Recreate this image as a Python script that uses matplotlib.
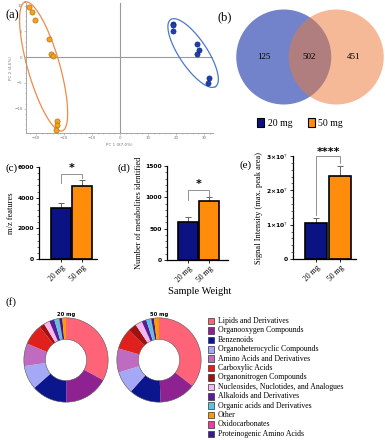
import numpy as np
import matplotlib
matplotlib.use('Agg')
import matplotlib.pyplot as plt
from matplotlib.patches import Circle, Patch, Rectangle
from matplotlib.ticker import AutoMinorLocator

plt.rcParams['font.family'] = ['Liberation Serif', 'DejaVu Serif']
plt.rcParams['mathtext.fontset'] = 'dejavuserif'

# ---------------- data ----------------
# (a) PCA scores
pc1_20mg = [18.9, 18.9, 18.9, 27.5, 28.2, 27.5, 31.8, 31.4]
pc2_20mg = [6.5, 6.2, 5.0, 2.5, 1.3, 0.7, -4.0, -5.0]
pc1_50mg = [-32.5, -31.4, -30.4, -25.4, -24.7, -24.0, -22.5, -22.5, -22.8]
pc2_50mg = [9.8, 8.8, 7.3, 3.5, 0.6, 0.2, -12.3, -13.1, -14.2]

# (b) venn counts
only_20mg = 125
shared = 502
only_50mg = 451

# (c)-(e) bars
groups = ['20 mg', '50 mg']
mz_mean = [3340, 4770]
mz_err = [280, 390]
metab_mean = [612, 947]
metab_err = [80, 54]
signal_mean = [1.06e7, 2.43e7]
signal_err = [0.12e7, 0.29e7]

# (f) donut composition (%), legend order
classes = ['Lipids and Derivatives', 'Organooxygen Compounds', 'Benzenoids',
           'Organoheterocyclic Compounds', 'Amino Acids and Derivatives',
           'Carboxylic Acids', 'Organonitrogen Compounds',
           'Nucleosides, Nuclotides, and Analogues', 'Alkaloids and Derivatives',
           'Organic acids and Derivatives', 'Other', 'Oxidocarbonates',
           'Proteinogenic Amino Acids']
class_colors = ['#ff6378', '#8e2290', '#0b158c', '#a4a8f5', '#bf6cc0',
                '#e0201c', '#a01212', '#f7b8ef', '#5a1d9a', '#5ac4dc',
                '#ff9a00', '#f03ca0', '#3c1a8a']
pct_20mg = [33.0, 17.0, 13.7, 9.2, 8.7, 8.0, 2.0, 2.2, 2.0, 1.7, 1.4, 0.2, 1.2]
pct_50mg = [35.5, 13.9, 12.2, 8.6, 9.2, 8.0, 3.3, 2.6, 1.8, 1.7, 1.9, 0.2, 1.1]
wedge_order = [0, 1, 2, 3, 4, 5, 6, 7, 8, 9, 11, 12, 10]

blue = '#0b1282'
orange = '#ff8c0a'

W, H = 385, 440
fig = plt.figure(figsize=(W/100, H/100), dpi=100)

def px_axes(l, t, r, b):
    return fig.add_axes([l/W, 1-b/H, (r-l)/W, (b-t)/H])

# ---------------- (a) PCA ----------------
ax = px_axes(26, 3, 213, 133)
ax.axvline(0, color='#9a9a9a', lw=0.8, zorder=0)
ax.axhline(0, color='#9a9a9a', lw=0.8, zorder=0)
ax.scatter(pc1_50mg, pc2_50mg, s=14, c='#f5a21b', edgecolors='#a86400', linewidths=0.4, zorder=3)
ax.scatter(pc1_20mg, pc2_20mg, s=14, c='#1f3fae', edgecolors='#0a1f70', linewidths=0.4, zorder=3)

t = np.linspace(0, 2*np.pi, 300)
# hotelling-style ellipses (centre, two conjugate half-axes in data units)
ell = [((-27.3, -1.8), (-6.6, 12.5), (5.5, 0.85), '#f08a4b'),
       ((26.1, 0.8), (8.0, -6.5), (4.15, 1.48), '#4a78d0')]
for c, u, v, col in ell:
    ex = c[0] + u[0]*np.cos(t) + v[0]*np.sin(t)
    ey = c[1] + u[1]*np.cos(t) + v[1]*np.sin(t)
    ax.plot(ex, ey, color=col, lw=0.9, clip_on=False)

ax.set_xlim(-33.6, 33.2)
ax.set_ylim(-14.7, 10.5)
ax.set_xticks([-30, -20, -10, 0, 10, 20, 30])
ax.set_yticks([-10, -5, 0, 5, 10])
ax.xaxis.set_minor_locator(AutoMinorLocator(5))
ax.yaxis.set_minor_locator(AutoMinorLocator(5))
for s in ['top', 'right']:
    ax.spines[s].set_visible(False)
for s in ['left', 'bottom']:
    ax.spines[s].set_color('#9a9a9a')
    ax.spines[s].set_linewidth(0.6)
ax.tick_params(which='both', colors='#9a9a9a', labelsize=2.8, width=0.4, pad=1)
ax.tick_params(which='major', length=1.5)
ax.tick_params(which='minor', length=0.8)
for lab in ax.get_xticklabels() + ax.get_yticklabels():
    lab.set_family('DejaVu Sans')
    lab.set_color('#777777')
ax.set_xlabel('PC 1 (87.0%)', fontsize=3, family='DejaVu Sans', color='#777777', labelpad=1.5)
ax.set_ylabel('PC 2 (4.6%)', fontsize=3, family='DejaVu Sans', color='#777777', labelpad=1)
fig.text(5/W, 1-15/H, '(a)', fontsize=9, va='center')

# ---------------- (b) Venn ----------------
axv = px_axes(228, 5, 385, 110)
axv.set_xlim(228, 385)
axv.set_ylim(110, 5)
axv.set_aspect('equal')
axv.axis('off')
r_venn = 47.5
sep = 52.5
cx, cy = 310, 57
axv.add_patch(Circle((cx - sep/2, cy), r_venn, fc='#7383cb', ec='none', clip_on=False))
axv.add_patch(Circle((cx + sep/2, cy), r_venn, fc='#ec7a3a', alpha=0.52, ec='none', clip_on=False))
axv.text(cx - sep/2 - 20, cy, str(only_20mg), ha='center', va='center', fontsize=6.5)
axv.text(cx - 1, cy, str(shared), ha='center', va='center', fontsize=6.5)
axv.text(cx + sep/2 + 17, cy, str(only_50mg), ha='center', va='center', fontsize=6.5)
fig.text(217/W, 1-17/H, '(b)', fontsize=9, va='center')
fig.legend(handles=[Patch(fc=blue, ec='black', lw=0.8), Patch(fc=orange, ec='black', lw=0.8)],
           labels=groups, ncol=2, loc='center', bbox_to_anchor=(300/W, 1-123/H),
           frameon=False, fontsize=7, handlelength=0.7, handleheight=1.0,
           handletextpad=0.4, columnspacing=1.6)

# ---------------- bars ----------------
def bar_panel(rect, means, errs, xlim, ylim, yticks, yticklabels, ylabel, bracket, stars, star_y, label, label_xy):
    ax = px_axes(*rect)
    x = np.arange(len(means))
    ax.errorbar(x, means, yerr=[np.zeros(len(errs)), errs], fmt='none', ecolor='#666666',
                elinewidth=0.7, capsize=2.5, capthick=0.7, zorder=1)
    ax.bar(x, means, width=0.94, color=[blue, orange], edgecolor='black', linewidth=1.2, zorder=2)
    top, left_low, right_low = bracket
    ax.plot([0, 0, 1, 1], [left_low, top, top, right_low], color='#808080', lw=0.6, clip_on=False)
    ax.text(0.5, star_y, stars, ha='center', va='center', fontsize=8, fontweight='bold',
            family='DejaVu Sans', clip_on=False)
    ax.set_xlim(*xlim)
    ax.set_ylim(*ylim)
    ax.set_yticks(yticks)
    ax.set_yticklabels(yticklabels)
    ax.yaxis.set_minor_locator(AutoMinorLocator(5))
    ax.set_xticks(x)
    ax.set_xticklabels(groups, rotation=45, ha='right', rotation_mode='anchor', fontsize=5.5)
    for s in ['top', 'right']:
        ax.spines[s].set_visible(False)
    for s in ['left', 'bottom']:
        ax.spines[s].set_linewidth(0.9)
    ax.tick_params(axis='y', which='major', length=2.5, width=0.6, labelsize=4.3, pad=1)
    ax.tick_params(axis='y', which='minor', length=1.2, width=0.4)
    ax.tick_params(axis='x', length=2, width=0.6, pad=1.5)
    for lab in ax.get_yticklabels():
        lab.set_family('DejaVu Sans')
        lab.set_fontweight('bold')
    ax.set_ylabel(ylabel, fontsize=6, labelpad=2)
    fig.text(label_xy[0]/W, 1-label_xy[1]/H, label, fontsize=8, va='center')
    return ax

bar_panel((39, 167, 97, 259), mz_mean, mz_err, (-1.02, 1.7), (0, 6000),
          [0, 2000, 4000, 6000], ['0', '2000', '4000', '6000'], 'm/z features',
          (5550, 4960, 5280), '*', 5950, '(c)', (6, 168))
bar_panel((167, 166, 228, 260), metab_mean, metab_err, (-0.99, 1.88), (0, 1500),
          [0, 500, 1000, 1500], ['0', '500', '1000', '1500'], 'Number of metabolites identified',
          (1118, 958, 1022), '*', 1215, '(d)', (117, 168))
bar_panel((293, 156, 356, 259), signal_mean, signal_err, (-1.0, 1.7), (0, 3e7),
          [0, 1e7, 2e7, 3e7], ['0', r'1×10$^{7}$', r'2×10$^{7}$', r'3×10$^{7}$'],
          'Signal Intensity (max. peak area)',
          (3.0e7, 1.28e7, 2.79e7), '****', 3.13e7, '(e)', (240, 165))
fig.text(200/W, 1-291/H, 'Sample Weight', fontsize=7.5, ha='center', va='center')

# ---------------- (f) donuts ----------------
fig.text(6/W, 1-302/H, '(f)', fontsize=8, va='center')
for (cxp, title, pct) in [(66, '20 mg', pct_20mg), (159, '50 mg', pct_50mg)]:
    axd = px_axes(cxp - 43, 317, cxp + 43, 403)
    vals = [pct[i] for i in wedge_order]
    cols = [class_colors[i] for i in wedge_order]
    axd.pie(vals, colors=cols, startangle=90, counterclock=False,
            wedgeprops=dict(width=0.51, edgecolor='none'))
    axd.add_patch(Circle((0, 0), 1.0, fill=False, ec='#555555', lw=0.4))
    axd.add_patch(Circle((0, 0), 0.49, fill=False, ec='#555555', lw=0.4))
    axd.set_xlim(-1.02, 1.02)
    axd.set_ylim(-1.02, 1.02)
    axd.set_title(title, fontsize=3.8, fontweight='bold', family='DejaVu Sans', pad=1.0)

# class legend, laid out by hand so rows keep the reference spacing
row0, row_step = 321, 9.4
for i, (name, col) in enumerate(zip(classes, class_colors)):
    yc = row0 + i*row_step
    fig.patches.append(Rectangle((208/W, 1-(yc+3.3)/H), 6.5/W, 6.6/H, fc=col, ec='#333333',
                                 lw=0.5, transform=fig.transFigure, figure=fig))
    fig.text(218/W, 1-yc/H, name, fontsize=5.6, va='center', ha='left')

fig.savefig('out.png', dpi=100)
